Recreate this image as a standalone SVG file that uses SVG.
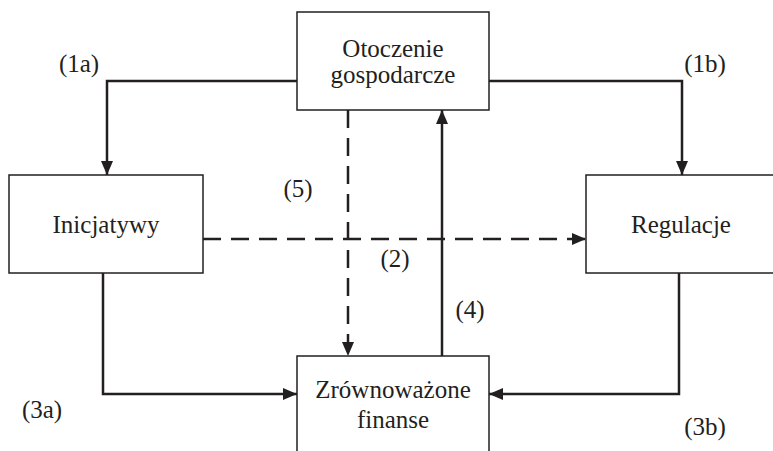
<svg xmlns="http://www.w3.org/2000/svg" width="773" height="451" viewBox="0 0 773 451">
<defs>
<marker id="arr" viewBox="0 0 14 12" refX="14" refY="6" markerWidth="14" markerHeight="12" markerUnits="userSpaceOnUse" orient="auto">
<path d="M0,0 L14,6 L0,12 Z" fill="#231f20"/>
</marker>
</defs>
<rect width="773" height="451" fill="#fff"/>
<g id="connectors" fill="none" stroke="#231f20" stroke-width="2.5">
<polyline points="297,81 107,81 107,175" marker-end="url(#arr)"/>
<polyline points="489,81 682,81 682,175" marker-end="url(#arr)"/>
<line stroke-dasharray="18,10" x1="203" y1="239" x2="586" y2="239" marker-end="url(#arr)"/>
<line stroke-dasharray="18,10" x1="348" y1="110" x2="348" y2="356" marker-end="url(#arr)"/>
<line x1="442" y1="356" x2="442" y2="110" marker-end="url(#arr)"/>
<polyline points="103,273 103,394 297,394" marker-end="url(#arr)"/>
<polyline points="679,273 679,394 489,394" marker-end="url(#arr)"/>
</g>
<g font-family="Liberation Serif" font-size="25" text-anchor="middle">
<g id="otoczenie">
<rect x="297" y="12" width="192" height="98" fill="#fff" stroke="#231f20" stroke-width="1.5"/>
<text fill="#231f20" x="393" y="57">Otoczenie</text>
<text fill="#231f20" x="393" y="83">gospodarcze</text>
</g>
<g id="inicjatywy">
<rect x="9" y="175" width="194" height="98" fill="#fff" stroke="#231f20" stroke-width="1.5"/>
<text fill="#231f20" x="106" y="233">Inicjatywy</text>
</g>
<g id="regulacje">
<rect x="586" y="175" width="190" height="98" fill="#fff" stroke="#231f20" stroke-width="1.5"/>
<text fill="#231f20" x="681" y="233">Regulacje</text>
</g>
<g id="finanse">
<rect x="297" y="356" width="192" height="100" fill="#fff" stroke="#231f20" stroke-width="1.5"/>
<text fill="#231f20" x="393" y="398">Zr&#243;wnowa&#380;one</text>
<text fill="#231f20" x="393" y="428">finanse</text>
</g>
<g id="labels" fill="#231f20">
<text x="79" y="72">(1a)</text>
<text x="705" y="72">(1b)</text>
<text x="298" y="197">(5)</text>
<text x="395" y="267">(2)</text>
<text x="470" y="318">(4)</text>
<text x="42" y="418">(3a)</text>
<text x="705" y="435">(3b)</text>
</g>
</g>
</svg>
